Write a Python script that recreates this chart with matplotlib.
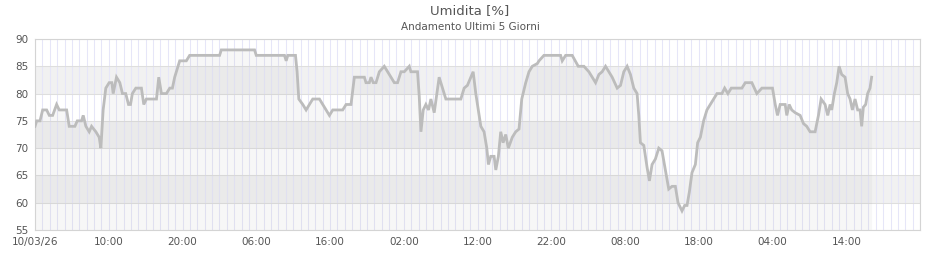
import numpy as np
import matplotlib
matplotlib.use("Agg")
import matplotlib.pyplot as plt

# ore dall'inizio (10/03/26 00:00) e umidita
ore = [0, 0.23, 0.68, 1.04, 1.58, 1.94, 2.39, 2.93, 3.29, 4.29, 4.64, 5.41, 5.73,
       6.31, 6.54, 6.9, 7.35, 7.67, 8.25, 8.7, 8.93, 9.24, 9.6, 10.06, 10.42, 10.6,
       11.05, 11.5, 11.86, 12.3, 12.68, 12.95, 13.2, 13.67, 14.43, 14.75, 15.1,
       16.47, 16.78, 17.14, 17.82, 18.27, 18.63, 18.94, 19.62, 20.52, 20.97, 25.03,
       25.26, 29.77, 30.0, 33.83, 34.06, 34.28, 35.32, 35.54, 35.77, 36.31, 36.76,
       37.21, 37.66, 38.57, 39.02, 39.47, 39.92, 40.37, 41.72, 42.18, 42.85, 43.3,
       44.66, 44.88, 45.33, 45.56, 45.87, 46.24, 46.69, 47.36, 47.81, 48.27, 48.72,
       49.16, 49.62, 50.07, 50.75, 50.97, 51.87, 52.1, 52.33, 52.64, 53.0, 53.36,
       53.68, 54.13, 54.44, 54.8, 55.25, 55.71, 56.39, 56.83, 57.74, 58.19, 58.63,
       59.1, 59.41, 59.77, 60.45, 60.89, 61.26, 61.48, 61.8, 62.25, 62.48, 62.83,
       63.15, 63.47, 63.83, 64.18, 64.72, 65.18, 65.63, 66.0, 66.54, 66.98, 67.43,
       68.11, 68.34, 69.01, 71.27, 71.49, 71.95, 72.84, 73.66, 74.43, 75.1, 75.55,
       76.01, 76.46, 76.9, 77.36, 77.81, 78.26, 78.94, 79.39, 79.84, 80.29, 80.74,
       81.19, 81.64, 81.87, 82.09, 82.55, 82.99, 83.31, 83.67, 84.12, 84.58, 85.02,
       85.48, 85.93, 86.38, 86.83, 87.19, 87.73, 88.09, 88.41, 88.73, 89.08, 89.54,
       89.85, 90.22, 90.66, 91.11, 91.57, 92.02, 92.47, 93.14, 93.51, 93.95, 94.41,
       95.85, 96.31, 97.2, 97.88, 98.56, 100.0, 100.37, 100.68, 101.04, 101.72,
       101.94, 102.26, 102.61, 103.07, 103.75, 104.2, 104.64, 105.1, 105.78, 106.23,
       106.59, 107.13, 107.49, 107.81, 108.03, 108.39, 108.71, 109.03, 109.38,
       109.84, 110.19, 110.52, 110.83, 111.19, 111.55, 111.87, 112.09, 112.32,
       112.63, 112.9, 113.22, 113.44]
umidita = [74, 75, 75, 77, 77, 76, 76, 78, 77, 77, 74, 74, 75,
           75, 76, 74, 73, 74, 73, 72, 70, 77, 81, 82, 82, 80,
           83, 82, 80, 80, 78, 78, 80, 81, 81, 78, 79,
           79, 83, 80, 80, 81, 81, 83, 86, 86, 87, 87,
           88, 88, 87, 87, 86, 87, 87, 84, 79, 78, 77,
           78, 79, 79, 78, 77, 76, 77, 77, 78, 78, 83,
           83, 82, 82, 83, 82, 82, 84, 85, 84, 83, 82,
           82, 84, 84, 85, 84, 84, 79.5, 73, 77, 78, 77,
           79, 76.5, 79.5, 83, 81, 79, 79, 79, 79, 81, 81.5,
           83, 84, 80, 74, 73, 70, 67, 68.5, 68.5, 66, 68.5,
           73, 71, 72.5, 70, 72, 73, 73.5, 79, 82, 84, 85,
           85.5, 86, 87, 87, 86, 87, 87, 85, 85, 84, 83,
           82, 83.5, 84, 85, 84, 83, 81, 81.5, 84, 85, 83.5,
           81, 80, 76, 71, 70.5, 66.5, 64, 67, 68, 70, 69.5,
           66, 62.5, 63, 63, 60, 58.5, 59.5, 59.5, 62, 65.5, 67,
           71, 72, 75, 77, 78, 79, 80, 80, 81, 80, 81,
           81, 82, 82, 80, 81, 81, 78, 76, 78, 78,
           76, 78, 77, 76.5, 76, 74.5, 74, 73, 73, 76,
           79, 78, 76, 78, 77, 80, 82, 85, 83.5,
           83, 80, 79, 77, 79, 77, 77, 74, 77.5,
           78, 80, 81, 83]

tick_ore = [0, 10, 20, 30, 40, 50, 60, 70, 80, 90, 100, 110]
tick_lab = ["10/03/26", "10:00", "20:00", "06:00", "16:00", "02:00",
            "12:00", "22:00", "08:00", "18:00", "04:00", "14:00"]
y_ticks = [55, 60, 65, 70, 75, 80, 85, 90]

fig = plt.figure(figsize=(9.4, 2.6), dpi=100)
ax = fig.add_axes([35/940, 30/260, 885/940, 191/260])

# bande orizzontali alternate
for lo in [60, 70, 80]:
    ax.axhspan(lo, lo+5, color='#f1f1f1', lw=0, zorder=0)

# griglia verticale oraria
for h in range(0, 121):
    ax.axvline(h, color='#e6e6f8', lw=0.75, zorder=1)
for v in y_ticks:
    ax.axhline(v, color='#dedede', lw=0.75, zorder=1)

ax.fill_between(ore, umidita, 55, color='#808080', alpha=0.06, lw=0, zorder=2)
ax.plot(ore, umidita, color='#bcbcbc', lw=2.0, zorder=3, solid_joinstyle='miter')

ax.set_xlim(0, 120)
ax.set_ylim(55, 90)
ax.set_xticks(tick_ore)
ax.set_xticklabels(tick_lab)
ax.set_yticks(y_ticks)
ax.tick_params(length=0, labelsize=7.5, labelcolor='#555555', pad=5)
for s in ax.spines.values():
    s.set_color('#d4d4d4')
    s.set_linewidth(0.8)

fig.text(0.5, 1 - 11/260, "Umidita [%]", ha='center', va='center', fontsize=9.5, color='#555555')
fig.text(0.5, 1 - 27/260, "Andamento Ultimi 5 Giorni", ha='center', va='center', fontsize=7.5, color='#555555')

fig.savefig("out.png", dpi=100)
